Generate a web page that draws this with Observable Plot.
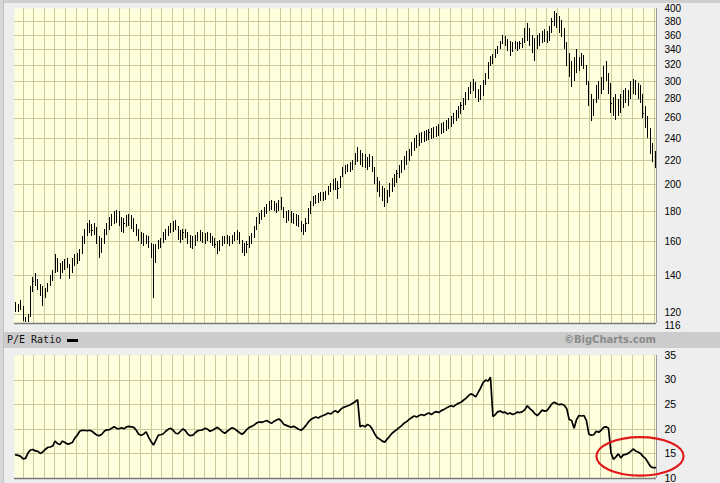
<!DOCTYPE html>
<html>
<head>
<meta charset="utf-8">
<script src="https://cdn.jsdelivr.net/npm/d3@7"></script>
<script src="https://cdn.jsdelivr.net/npm/@observablehq/plot@0.6"></script>
<style>
  html, body { margin: 0; padding: 0; background: #eeeeee; }
  #wrap { position: relative; width: 720px; height: 483px; background: #eeeeee; overflow: hidden; }
  #wrap > .abs { position: absolute; }
  #topstrip { left: 0; top: 0; width: 720px; height: 3px; background: #cfcfcf; }
  #leftstrip { left: 0; top: 0; width: 3px; height: 483px; background: #d6d6d6; border-right: 1px solid #c2c2c2; }
  #band { left: 0; top: 332px; width: 720px; height: 16px; background: #cccccc; }
  #pelabel { left: 7px; top: 333px; font-family: "DejaVu Sans Mono", monospace; font-size: 10px; line-height: 14px; color: #111; }
  #swatch { left: 67px; top: 339px; width: 11px; height: 3px; background: #000; }
  #credit { left: 540px; width: 116px; top: 332px; text-align: right; font-family: "DejaVu Sans", sans-serif; font-weight: bold; font-size: 10px; line-height: 16px; color: #8a8a8a; }
  #top { left: 0; top: 0; }
  #bottom { left: 0; top: 349px; }
</style>
</head>
<body>
<div id="wrap">
  <div class="abs" id="topstrip"></div>
  <div class="abs" id="band"></div>
  <div class="abs" id="pelabel">P/E Ratio</div>
  <div class="abs" id="swatch"></div>
  <div class="abs" id="credit">©BigCharts.com</div>
  <div class="abs" id="top"></div>
  <div class="abs" id="bottom"></div>
  <div class="abs" id="leftstrip"></div>
</div>
<script>
// ---- data (weekly bars) ----
const firstWeek = new Date(Date.UTC(2003, 0, 10));

const high = [
126,125,127,124,119,120,134,139,141,138,
135,134,133,136,140,143,152,150,147,148,
149,150,146,150,152,153,155,163,168,172,
174,171,172,169,163,162,168,172,176,178,
180,181,180,176,175,177,178,177,175,171,
168,166,165,164,163,159,158,158,161,162,
166,168,170,172,173,174,170,167,168,168,
166,164,163,164,166,167,166,165,166,165,
163,162,160,161,163,163,164,163,164,166,
167,166,161,159,160,163,165,170,176,179,
181,183,185,187,188,187,186,188,190,183,
180,181,180,179,178,177,173,171,175,182,
187,191,192,193,194,194,195,199,201,204,
205,203,207,214,216,217,218,220,226,232,
229,226,225,223,225,224,214,206,203,199,
197,196,201,205,208,212,216,220,224,228,
230,236,240,243,245,246,247,248,249,250,
251,252,254,255,256,258,260,262,265,268,
272,276,281,287,293,299,303,299,291,296,
302,310,323,331,334,340,344,352,360,358,
354,352,350,352,350,352,355,370,377,370,
360,355,360,362,365,368,366,372,385,396,
392,388,382,370,350,335,325,330,340,330,
335,332,320,300,285,280,295,300,305,318,
325,310,298,282,285,280,285,290,292,290,
300,303,302,298,295,285,272,262,250,235,
228];

const low = [
121,121,122,117,116.5,116.5,119,131,134,132,
129,124,128,131,134,137,141,142,138,141,
143,144,138,141,145,146,148,152,158,163,
165,163,164,158,150,153,158,164,167,170,
171,172,170,166,165,169,170,168,166,163,
160,158,157,158,156,150,128,147,155,156,
159,161,163,165,166,167,161,159,161,162,
158,156,155,157,160,160,159,158,160,159,
157,156,152,154,157,158,158,157,158,160,
161,158,153,151,153,156,158,162,167,171,
174,176,178,180,181,180,179,180,181,175,
172,173,172,171,170,169,166,164,166,171,
178,184,185,186,187,187,188,192,194,196,
196,189,197,206,208,210,210,212,216,218,
216,214,213,212,214,210,200,194,190,187,
183,186,190,194,198,201,205,209,212,216,
219,224,228,231,233,235,236,237,238,239,
240,241,242,244,245,247,249,251,254,257,
260,264,268,273,279,285,289,281,276,279,
283,296,303,318,321,328,334,340,347,345,
338,331,336,340,338,340,342,348,352,345,
335,325,340,345,348,350,348,352,362,372,
370,362,357,340,318,305,293,300,310,312,
318,315,295,272,257,262,275,280,285,290,
300,285,265,262,258,262,265,270,275,272,
280,285,284,280,275,260,250,240,225,218,
213];

const close = [
124,123,126,118,117,119,132,137,136,134,
131,127,131,134,138,141,149,145,140,146,
147,148,141,148,150,151,153,161,166,169,
170,167,168,160,156,159,166,169,173,175,
177,178,172,169,172,175,176,171,169,166,
162,164,160,162,158,152,150,155,159,160,
164,166,168,170,171,170,163,165,166,164,
160,158,160,162,164,165,162,163,164,161,
160,158,155,159,161,160,162,160,163,164,
165,160,156,155,158,161,163,168,174,177,
179,181,183,185,186,184,183,187,183,177,
176,178,175,174,173,171,168,169,172,180,
185,189,190,191,192,192,193,197,199,201,
199,197,205,212,214,214,216,218,223,225,
220,222,217,219,221,212,203,197,195,190,
187,193,198,202,205,209,213,217,221,225,
227,233,237,239,241,243,242,245,246,247,
248,249,251,252,253,255,257,259,262,265,
269,273,278,284,290,295,298,285,282,293,
299,307,320,327,330,337,341,349,356,350,
345,343,345,348,344,348,350,365,360,352,
350,340,355,358,360,362,355,368,380,385,
378,375,370,348,328,318,305,325,330,320,
325,322,300,280,265,275,290,292,298,312,
315,292,275,270,275,268,280,285,288,283,
295,298,292,290,280,265,258,248,232,225,
218];

const pe = [
14.8,14.7,14.5,14.0,14.1,15.2,15.8,15.9,15.6,15.5,
15.1,15.4,15.9,16.3,16.4,16.6,17.6,17.1,16.9,17.6,
17.3,17.0,17.1,17.3,18.2,18.8,19.6,19.8,19.8,19.7,
19.8,19.6,19.2,18.8,18.7,19.0,19.6,19.9,19.9,20.2,
20.5,20.2,20.1,20.3,20.1,20.5,20.6,20.5,20.4,19.8,
19.0,18.8,19.0,19.5,18.4,17.5,16.8,17.8,18.8,18.9,
19.1,19.6,20.0,20.2,19.8,19.2,19.1,19.6,20.1,19.7,
19.0,18.7,18.8,19.3,19.7,19.8,19.9,20.2,20.0,19.6,
19.8,20.1,20.4,20.0,19.5,19.2,19.6,20.0,20.3,20.1,
19.7,19.3,19.0,19.4,20.0,20.4,20.6,20.9,21.3,21.5,
21.4,21.6,21.8,21.5,21.2,21.6,21.9,22.1,21.7,21.0,
20.8,20.6,20.4,20.6,20.3,20.0,19.8,20.2,20.8,21.5,
22.0,22.3,22.5,22.3,22.6,22.8,23.0,23.3,23.1,23.5,
23.8,23.4,24.0,24.4,24.6,24.8,25.0,25.3,25.6,26.0,
20.5,20.8,20.5,21.0,20.7,20.0,19.0,18.3,18.0,17.6,
17.4,18.0,18.6,19.2,19.6,20.0,20.4,20.8,21.3,21.6,
22.0,22.4,22.7,22.5,22.8,23.0,22.8,23.1,23.3,23.0,
23.4,23.6,23.4,23.8,24.0,24.3,24.6,24.8,24.6,25.0,
25.3,25.5,25.9,26.3,26.8,27.2,27.0,26.6,27.5,28.4,
29.5,30.0,29.8,30.6,22.6,23.0,23.6,23.7,23.4,23.5,
23.1,23.3,23.0,23.2,23.5,23.4,23.6,24.0,24.8,24.2,
23.8,23.2,22.8,23.3,23.9,23.7,23.8,24.5,25.2,25.5,
25.2,25.0,25.1,24.9,24.2,22.0,21.8,20.2,22.0,22.8,
22.7,22.8,21.8,19.0,18.8,18.9,19.6,19.4,19.8,20.4,
20.5,20.2,15.2,13.9,14.4,15.0,14.2,14.8,14.9,15.1,
15.5,16.0,15.6,15.4,15.1,14.5,14.1,13.3,12.5,12.2,
12.2];

const priceTicks = [116,120,140,160,180,200,220,240,260,280,300,320,340,360,380,400];
const priceGrid  = [120,140,160,180,200,220,240,260,280,300,320,340,360,380];
const peTicks = [10,15,20,25,30,35];
const peGrid  = [15,20,25,30];

// annotation (data units): week index, P/E value, half-widths in days and P/E
const circleWeek = 254, circlePE = 14.4, circleHalfDays = 124, circleHalfPE = 3.9;

// ---- build table ----
const weeks = close.map((c, i) => ({
  date: d3.utcWeek.offset(firstWeek, i),
  high: high[i], low: low[i], close: c, pe: pe[i]
}));
const half = 3.5 * 864e5;
const xDomain = [new Date(+weeks[0].date - half), new Date(+weeks[weeks.length - 1].date + half)];
const months = d3.utcMonth.range(xDomain[0], xDomain[1]);

const bg = "#ffffdd", gridColor = "#c9c999";
const font = "'Liberation Sans', Arial, sans-serif";

// the two bottom price labels sit very close together; they are drawn as text so they can be nudged apart
const lowTicks = [116, 120];
const axisTicks = priceTicks.filter(t => !lowTicks.includes(t));

const topPlot = Plot.plot({
  width: 720, height: 330,
  marginLeft: 14, marginRight: 64, marginTop: 8, marginBottom: 7,
  style: { background: "transparent", fontFamily: font, fontSize: "10px", color: "#000", overflow: "visible" },
  x: { type: "utc", domain: xDomain, axis: null },
  y: { type: "log", domain: [116, 400], axis: "right", ticks: axisTicks, tickFormat: d => String(d), tickSize: 0, tickPadding: 8, label: null },
  marks: [
    Plot.frame({ fill: bg, stroke: null }),
    Plot.gridX(months, { stroke: gridColor, strokeOpacity: 1, shapeRendering: "crispEdges" }),
    Plot.gridY(priceGrid, { stroke: gridColor, strokeOpacity: 1, shapeRendering: "crispEdges" }),
    Plot.ruleX(weeks, { x: "date", y1: "low", y2: "high", stroke: "#000", strokeWidth: 1, shapeRendering: "crispEdges" }),
    Plot.ruleY(weeks, { x1: "date", x2: d => d3.utcDay.offset(d.date, 3), y: "close", stroke: "#000", strokeWidth: 1, shapeRendering: "crispEdges" }),
    Plot.ruleY([116], { stroke: "#7a7a7a", strokeWidth: 1.5 }),
    Plot.ruleX([xDomain[1]], { stroke: "#9a9a9a", strokeWidth: 1 }),
    Plot.text([lowTicks[1]], { x: xDomain[1], y: d => d, text: d => String(d), dx: 8, dy: -2, textAnchor: "start", fontSize: 10 }),
    Plot.text([lowTicks[0]], { x: xDomain[1], y: d => d, text: d => String(d), dx: 8, dy: 2, textAnchor: "start", fontSize: 10 })
  ]
});
document.getElementById("top").appendChild(topPlot);

const botPlot = Plot.plot({
  width: 720, height: 134,
  marginLeft: 14, marginRight: 64, marginTop: 6, marginBottom: 5,
  style: { background: "transparent", fontFamily: font, fontSize: "10.5px", color: "#000", overflow: "visible" },
  x: { type: "utc", domain: xDomain, axis: null },
  y: { domain: [10, 35], axis: "right", ticks: peTicks, tickFormat: d => String(d), tickSize: 0, tickPadding: 8, label: null },
  marks: [
    Plot.frame({ fill: bg, stroke: null }),
    Plot.gridX(months, { stroke: gridColor, strokeOpacity: 1, shapeRendering: "crispEdges" }),
    Plot.gridY(peGrid, { stroke: gridColor, strokeOpacity: 1, shapeRendering: "crispEdges" }),
    Plot.line(weeks, { x: "date", y: "pe", stroke: "#000", strokeWidth: 1.7, strokeLinejoin: "miter" }),
    Plot.ruleY([10], { stroke: "#7a7a7a", strokeWidth: 1.5 }),
    Plot.ruleX([xDomain[1]], { stroke: "#9a9a9a", strokeWidth: 1 })
  ]
});
document.getElementById("bottom").appendChild(botPlot);

// red ellipse annotation through the bottom plot's scales
const sx = botPlot.scale("x"), sy = botPlot.scale("y");
const cDate = weeks[circleWeek].date;
const cx = sx.apply(cDate), cy = sy.apply(circlePE);
const rx = sx.apply(d3.utcDay.offset(cDate, circleHalfDays)) - cx;
const ry = sy.apply(circlePE - circleHalfPE) - cy;
d3.select(botPlot).append("ellipse")
  .attr("cx", cx).attr("cy", cy).attr("rx", rx).attr("ry", ry)
  .attr("fill", "none").attr("stroke", "#e01818").attr("stroke-width", 2.2);
</script>
</body>
</html>
